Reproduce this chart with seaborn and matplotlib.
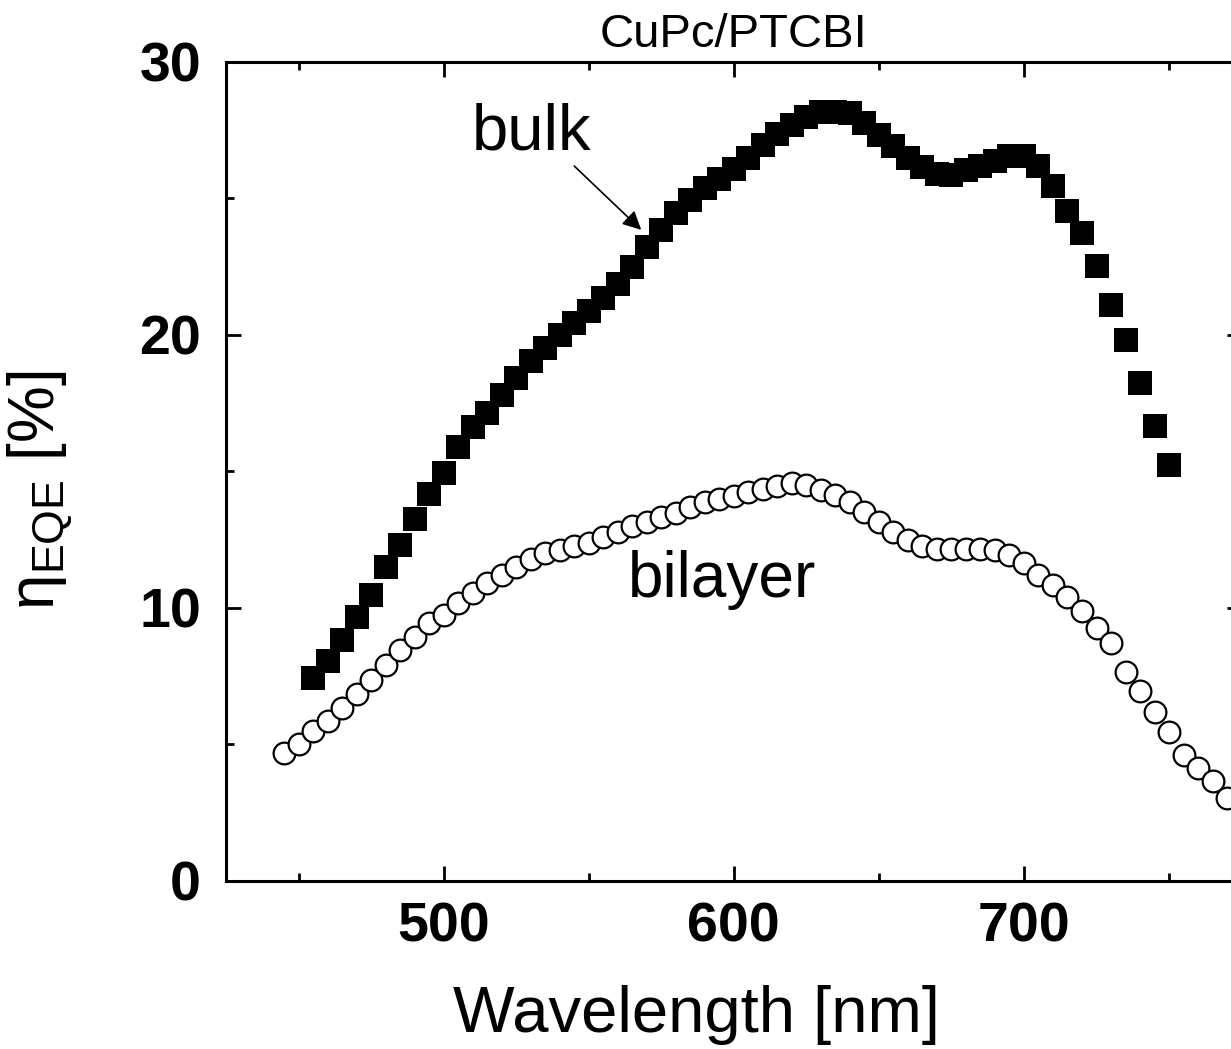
import numpy as np
import pandas as pd
import matplotlib
matplotlib.use("Agg")
import matplotlib.pyplot as plt
import seaborn as sns
from matplotlib.ticker import MultipleLocator

# ---- data ----
bulk_wl = list(range(455, 751, 5))
bulk_eqe = [7.42, 8.07, 8.83, 9.68, 10.48, 11.51, 12.31, 13.25, 14.16, 14.96,
            15.91, 16.64, 17.15, 17.80, 18.44, 19.04, 19.51, 20.0, 20.45, 20.88,
            21.34, 21.85, 22.5, 23.23, 23.85, 24.48, 24.95, 25.37, 25.7, 26.08,
            26.47, 26.96, 27.35, 27.69, 28.0, 28.18, 28.18, 28.12, 27.78, 27.33,
            26.93, 26.5, 26.14, 25.89, 25.87, 26.05, 26.2, 26.39, 26.56, 26.54,
            26.2, 25.44, 24.53, 23.73, 22.51, 21.08, 19.80, 18.25, 16.66, 15.22]

bilayer_wl = list(range(445, 771, 5))
bilayer_eqe = [4.68, 5.02, 5.51, 5.87, 6.35, 6.85, 7.35, 7.91, 8.46, 8.93,
               9.44, 9.74, 10.17, 10.54, 10.90, 11.21, 11.51, 11.78, 12.0, 12.12,
               12.27, 12.39, 12.59, 12.79, 13.0, 13.14, 13.35, 13.49, 13.71, 13.87,
               13.99, 14.11, 14.24, 14.36, 14.48, 14.56, 14.51, 14.32, 14.14, 13.87,
               13.5, 13.14, 12.77, 12.48, 12.27, 12.16, 12.15, 12.16, 12.16, 12.12,
               11.94, 11.64, 11.21, 10.84, 10.41, 9.90, 9.28, 8.71, 7.67, 6.97,
               6.20, 5.47, 4.62, 4.13, 3.66, 3.03]

x_major = [500, 600, 700]
y_major = [0, 10, 20, 30]

title = "CuPc/PTCBI"
xlabel = "Wavelength [nm]"
ylabel = r"$\mathrm{\eta}_{\mathrm{EQE}}$ [%]"

bulk_df = pd.DataFrame({"wl": bulk_wl, "eqe": bulk_eqe})
bil_df = pd.DataFrame({"wl": bilayer_wl, "eqe": bilayer_eqe})

# ---- style ----
sns.set_theme(style="ticks")
plt.rcParams["font.family"] = ["Liberation Sans", "DejaVu Sans"]
plt.rcParams["mathtext.fontset"] = "custom"
plt.rcParams["mathtext.rm"] = "Liberation Sans"
plt.rcParams["mathtext.it"] = "Liberation Sans"
plt.rcParams["mathtext.bf"] = "Liberation Sans:bold"
for key in ["text.color", "axes.labelcolor", "xtick.color", "ytick.color",
            "axes.edgecolor", "xtick.labelcolor", "ytick.labelcolor"]:
    plt.rcParams[key] = "black"

fig = plt.figure(figsize=(12.31, 10.49), dpi=100)
ax = fig.add_axes([0.1836, 0.1602, 0.825, 0.7807])

sns.scatterplot(data=bulk_df, x="wl", y="eqe", marker="s", s=300,
                color="black", linewidth=0, ax=ax, zorder=3)
sns.scatterplot(data=bil_df, x="wl", y="eqe", marker="o", s=245,
                facecolor="white", edgecolor="black", linewidth=1.6,
                ax=ax, zorder=4)

ax.set_xlim(425, 775)
ax.set_ylim(0, 30)
ax.set_xticks(x_major)
ax.set_yticks(y_major)
ax.xaxis.set_minor_locator(MultipleLocator(50))
ax.yaxis.set_minor_locator(MultipleLocator(5))

for s in ax.spines.values():
    s.set_visible(True)
    s.set_linewidth(2.2)
    s.set_color("black")

ax.tick_params(which="both", direction="in", top=True, right=True,
               color="black", width=2.0)
ax.tick_params(which="major", length=11)
ax.tick_params(which="minor", length=5.5)
ax.tick_params(axis="x", which="major", labelsize=40, pad=15)
ax.tick_params(axis="y", which="major", labelsize=40, pad=18)
for lab in ax.get_xticklabels() + ax.get_yticklabels():
    lab.set_fontweight("bold")
    lab.set_color("black")

ax.set_title(title, fontsize=34, pad=11, color="black")
ax.set_xlabel(xlabel, fontsize=47, color="black")
ax.set_ylabel(ylabel, fontsize=46, color="black")
ax.xaxis.set_label_coords(0.463, -0.127)
ax.yaxis.set_label_coords(-0.15, 0.477)

ax.text(509.8, 26.78, "bulk", fontsize=47, ha="left", va="baseline", color="black")
ax.text(563.6, 10.40, "bilayer", fontsize=46, ha="left", va="baseline", color="black")
ax.annotate("", xy=(568.1, 23.85), xytext=(545, 26.19),
            arrowprops=dict(arrowstyle="-|>", color="black", lw=1.2,
                            mutation_scale=28, shrinkA=0, shrinkB=0))

fig.savefig("out.png", dpi=100)
